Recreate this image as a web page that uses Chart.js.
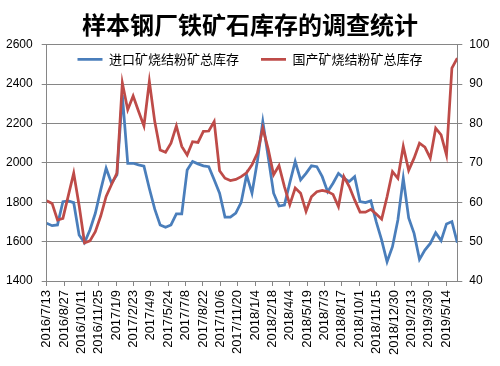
<!DOCTYPE html>
<html><head><meta charset="utf-8">
<script src="https://cdn.jsdelivr.net/npm/chart.js@4/dist/chart.umd.min.js"></script>
<style>html,body{margin:0;padding:0;background:#fff}canvas{display:block}</style>
</head><body>
<canvas id="c" width="500" height="366"></canvas>
<script>
const chartTitle = '样本钢厂铁矿石库存的调查统计';
const seriesNames = ['进口矿烧结粉矿总库存', '国产矿烧结粉矿总库存'];
const dates = ['2016-07-13','2016-07-27','2016-08-10','2016-08-24','2016-09-07','2016-09-21','2016-10-05','2016-10-19','2016-11-02','2016-11-16','2016-11-30','2016-12-14','2016-12-28',
'2017-01-11','2017-01-25','2017-02-08','2017-02-22','2017-03-08','2017-03-22','2017-04-05','2017-04-19','2017-05-03','2017-05-17','2017-05-31','2017-06-14','2017-06-28','2017-07-12','2017-07-26','2017-08-09','2017-08-23','2017-09-06','2017-09-20','2017-10-04','2017-10-18','2017-11-01','2017-11-15','2017-11-29','2017-12-13','2017-12-27',
'2018-01-10','2018-01-24','2018-02-07','2018-02-21','2018-03-07','2018-03-21','2018-04-04','2018-04-18','2018-05-02','2018-05-16','2018-05-30','2018-06-13','2018-06-27','2018-07-11','2018-07-25','2018-08-08','2018-08-22','2018-09-05','2018-09-19','2018-10-03','2018-10-17','2018-10-31','2018-11-14','2018-11-28','2018-12-12','2018-12-26',
'2019-01-09','2019-01-23','2019-02-06','2019-02-20','2019-03-06','2019-03-20','2019-04-03','2019-04-17','2019-05-01','2019-05-15','2019-05-29','2019-06-12'];
const importStock = [1693,1681,1685,1803,1807,1798,1634,1595,1659,1744,
1863,1973,1897,1939,2346,1998,1998,1990,1983,1870,
1765,1685,1673,1685,1741,1741,1964,2007,1995,1985,
1981,1914,1846,1725,1725,1745,1800,1939,1846,2010,
2210,2030,1846,1781,1786,1900,2007,1914,1947,1985,
1981,1930,1854,1897,1947,1922,1905,1930,1803,1798,
1807,1700,1608,1498,1574,1710,1922,1720,1642,1510,
1557,1591,1645,1605,1690,1702,1595];
const domesticStock = [60.4,59.7,55.5,55.9,61.7,67.4,59.2,49.7,50.2,52.5,
56.5,61.5,64.5,67.4,90.3,83.5,87.0,83.1,79.4,90.7,
80.5,73.3,72.7,75.0,79.4,74.2,72.0,75.4,75.2,78.0,
78.1,80.5,68.0,66.1,65.5,65.8,66.5,67.5,69.5,72.5,
78.8,73.5,67.0,69.3,64.0,59.4,63.6,62.3,57.7,61.4,
62.7,63.0,62.7,62.0,58.9,66.5,64.0,60.6,57.5,57.5,
58.2,57.0,55.7,61.4,67.8,66.1,74.2,68.1,71.2,75.0,
74.0,71.2,78.8,77.1,72.0,94.1,96.6];
const leftAxis = {min: 1400, max: 2600, step: 200};
const rightAxis = {min: 40, max: 100, step: 10};
const xTickStepDays = 45;

const DAY = 86400000;
function dayNum(s){const p=s.split('-').map(Number);return Date.UTC(p[0],p[1]-1,p[2])/DAY;}
const origin = dayNum(dates[0]);
const xs = dates.map(d => dayNum(d) - origin);
function fmt(v){const d=new Date((origin+v)*DAY);return d.getUTCFullYear()+'/'+(d.getUTCMonth()+1)+'/'+d.getUTCDate();}

const GRID = '#868686';
const tickFont = {family: "'Liberation Sans', Arial, sans-serif", size: 12};
const cjk = "'Noto Sans CJK SC', sans-serif";

// let the (1px tall) top legend draw its row over the top of the plot area
const legendOverlay = {
  id: 'legendOverlay',
  afterLayout(chart) {
    const lg = chart.legend;
    if (lg) { lg.height = 34; lg.bottom = lg.top + 34; }
  }
};

new Chart(document.getElementById('c'), {
  type: 'line',
  data: {
    datasets: [
      {label: seriesNames[0], data: xs.map((x,i)=>({x, y: importStock[i]})), borderColor: '#4a7ebb', backgroundColor: '#4a7ebb', borderWidth: 2.75, pointRadius: 0, tension: 0, yAxisID: 'y', order: 1},
      {label: seriesNames[1], data: xs.map((x,i)=>({x, y: domesticStock[i]})), borderColor: '#be4b48', backgroundColor: '#be4b48', borderWidth: 2.75, pointRadius: 0, tension: 0, yAxisID: 'y1', order: 0}
    ]
  },
  plugins: [legendOverlay],
  options: {
    responsive: false, animation: false, devicePixelRatio: 1,
    layout: {padding: 0},
    plugins: {
      tooltip: {enabled: false},
      title: {display: true, text: chartTitle, color: '#000', font: {family: cjk, size: 24, weight: 'bold'}, padding: {top: 10, bottom: 5}},
      legend: {
        position: 'top', align: 'center', maxHeight: 1,
        labels: {
          usePointStyle: true, pointStyle: 'line', pointStyleWidth: 25, boxHeight: 13,
          color: '#000', font: {family: cjk, size: 13}, padding: 9,
          generateLabels(chart) {
            const items = Chart.defaults.plugins.legend.labels.generateLabels(chart);
            items.sort((a, b) => a.datasetIndex - b.datasetIndex);
            items.forEach((it, i) => { if (i < items.length - 1) it.text = it.text + '\u3000'; });
            return items;
          }
        }
      }
    },
    scales: {
      x: {
        type: 'linear', min: 0, max: xs[xs.length-1],
        afterFit(s){ s.height = 85; },
        ticks: {stepSize: xTickStepDays, includeBounds: false, autoSkip: false, minRotation: 90, maxRotation: 90, color: '#000', font: {family: tickFont.family, size: 13}, padding: 4, callback: v => fmt(v)},
        grid: {drawOnChartArea: false, drawTicks: true, tickLength: 5, color: GRID},
        border: {color: GRID}
      },
      y: {
        position: 'left', min: leftAxis.min, max: leftAxis.max,
        afterFit(s){ s.width = 46.7; },
        ticks: {stepSize: leftAxis.step, color: '#000', font: tickFont, padding: 9, callback: v => String(v)},
        grid: {color: GRID, tickLength: 5},
        border: {color: GRID}
      },
      y1: {
        position: 'right', min: rightAxis.min, max: rightAxis.max,
        afterFit(s){ s.width = 42.7; },
        ticks: {stepSize: rightAxis.step, color: '#000', font: tickFont, padding: 7, callback: v => String(v)},
        grid: {drawOnChartArea: false, color: GRID, tickLength: 5},
        border: {color: GRID}
      }
    }
  }
});
</script>
</body></html>
